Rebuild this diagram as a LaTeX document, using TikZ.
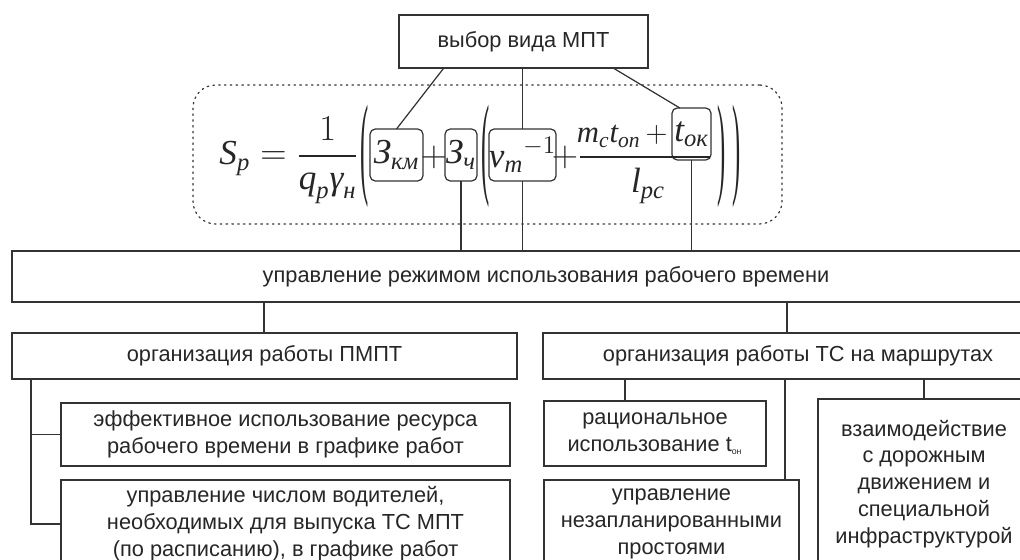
\documentclass[tikz,border=0pt]{standalone}
\usepackage{amsmath}
\usepackage{graphicx}
\usepackage{fontspec}
\setmainfont{Liberation Sans}
\newfontfamily\frm{Liberation Serif}
\newcommand\frmit[1]{\text{\frm\itshape #1}}
\newcommand\bigpar[1]{\scalebox{1}[4.6]{\fontsize{14}{16}\frm\selectfont #1}}
\usetikzlibrary{calc}

\begin{document}
\begin{tikzpicture}[x=0.02cm, y=-0.02cm, line width=0.7pt,
  blk/.style={draw=black!80, inner sep=0pt, outer sep=0pt, align=center,
    text=black!85, font=\fontsize{12.4}{15.3}\selectfont},
  fbx/.style={draw=black!80, rounded corners=3pt, inner sep=0pt, outer sep=0pt,
    minimum height=1.04cm, text=black!85, font=\fontsize{20}{24}\selectfont},
  frml/.style={inner sep=0pt, text=black!85, font=\fontsize{20}{24}\selectfont}]
  % поле 1020 x 560 px, 1 px = 0.02 cm, ось y вниз
  \useasboundingbox (0,0) rectangle (1020,560);
  \clip (0,0) rectangle (1020,560);

  \node[blk, minimum width=4.98cm, minimum height=1.06cm] (top) at (523.5,41.5) {выбор вида МПТ};

  % формула
  \node[draw=black!80, dash pattern=on 0.9pt off 2.4pt, line cap=round, rounded corners=0.45cm,
    minimum width=11.78cm, minimum height=2.78cm] (frm) at (487.5,154.5) {};
  \node[frml, anchor=base] (lhs) at (289,165)
    {$\frmit{S}_{\frmit{p}} = \dfrac{1}{\frmit{q}_{\frmit{p}}\frmit{γ}_{\frmit{н}}}$};
  \node[frml] (lp1) at (365,156) {\bigpar{(}};
  \node[fbx, minimum width=1.06cm] (zkm) at (396.5,155) {$\frmit{З}_{\frmit{км}}$};
  \node[frml] (pl1) at (434,157) {$+$};
  \node[fbx, minimum width=0.64cm] (zch) at (461,155) {$\frmit{З}_{\frmit{ч}}$};
  \node[frml] (lp2) at (486,156) {\bigpar{(}};
  \node[fbx, minimum width=1.18cm] (vm) at (522.5,155) {${\frmit{v}_{\frmit{m}}}^{-1}$};
  \node[frml] (pl2) at (565,157) {$+$};
  \node[frml, anchor=base east, font=\fontsize{17.5}{21}\selectfont] (num) at (668,143)
    {$\frmit{m}_{\frmit{c}}\frmit{t}_{\frmit{оп}}\,+$};
  \node[fbx, minimum width=0.78cm] (tok) at (691.5,134) {$\frmit{t}_{\frmit{ок}}$};
  \draw[black!85] (580,157) -- (710,157);
  \node[frml] (den) at (648,186) {$\frmit{l}_{\frmit{pc}}$};
  \node[frml] (rp1) at (722,156) {\bigpar{)}};
  \node[frml] (rp2) at (737,156) {\bigpar{)}};

  \node[blk, minimum width=21.36cm, minimum height=1.02cm] (big) at (546,276.5)
    {управление режимом использования рабочего времени};

  \node[blk, minimum width=10.10cm, minimum height=0.92cm] (lbox) at (264.5,356) {организация работы ПМПТ};
  \node[blk, minimum width=10.20cm, minimum height=0.92cm] (rbox) at (798,356) {организация работы ТС на маршрутах};

  \node[blk, minimum width=8.98cm, minimum height=1.26cm] (eff) at (285.5,434.5)
    {эффективное использование ресурса\\рабочего времени в графике работ};
  \node[blk, minimum width=8.98cm, minimum height=1.76cm] (drv) at (285.5,524)
    {управление числом водителей,\\необходимых для выпуска ТС МПТ\\(по расписанию), в графике работ};
  \node[blk, minimum width=4.44cm, minimum height=1.30cm] (rat) at (655,433.5)
    {рациональное\\использование t\textsubscript{\tiny он}};
  \node[blk, minimum width=5.10cm, minimum height=1.76cm] (nez) at (671.5,524)
    {управление\\незапланированными\\простоями};
  \node[blk, minimum width=4.24cm, minimum height=3.40cm] (vzm) at (924,484)
    {взаимодействие\\с дорожным\\движением и\\специальной\\инфраструктурой};

  % связи
  \draw[black!80] ($(top.south west)!.18!(top.south east)$) -- (zkm.north);
  \draw[black!80] (vm.north |- top.south) -- (vm.north);
  \draw[black!80] ($(top.south west)!.86!(top.south east)$) -- ($(tok.north west)!.2!(tok.north east)$);
  \draw[black!80] (zch.south) -- (zch.south |- big.north);
  \draw[black!80] (vm.south) -- (vm.south |- big.north);
  \draw[black!80] (tok.south) -- (tok.south |- big.north);

  \coordinate (lc) at (264,0);
  \coordinate (rc) at (787,0);
  \draw[black!80] (big.south -| lc) -- (lbox.north -| lc);
  \draw[black!80] (big.south -| rc) -- (rbox.north -| rc);

  \coordinate (lt) at (31,0);
  \coordinate (rt) at (625,0);
  \coordinate (rn) at (785,0);
  \draw[black!80] (lbox.south -| lt) |- (eff.west);
  \draw[black!80] (lbox.south -| lt) |- (drv.west);
  \draw[black!80] (rbox.south -| rt) -- (rat.north -| rt);
  \draw[black!80] (rbox.south -| rn) -- (nez.north -| rn);
  \draw[black!80] (rbox.south -| vzm.north) -- (vzm.north);
\end{tikzpicture}
\end{document}
